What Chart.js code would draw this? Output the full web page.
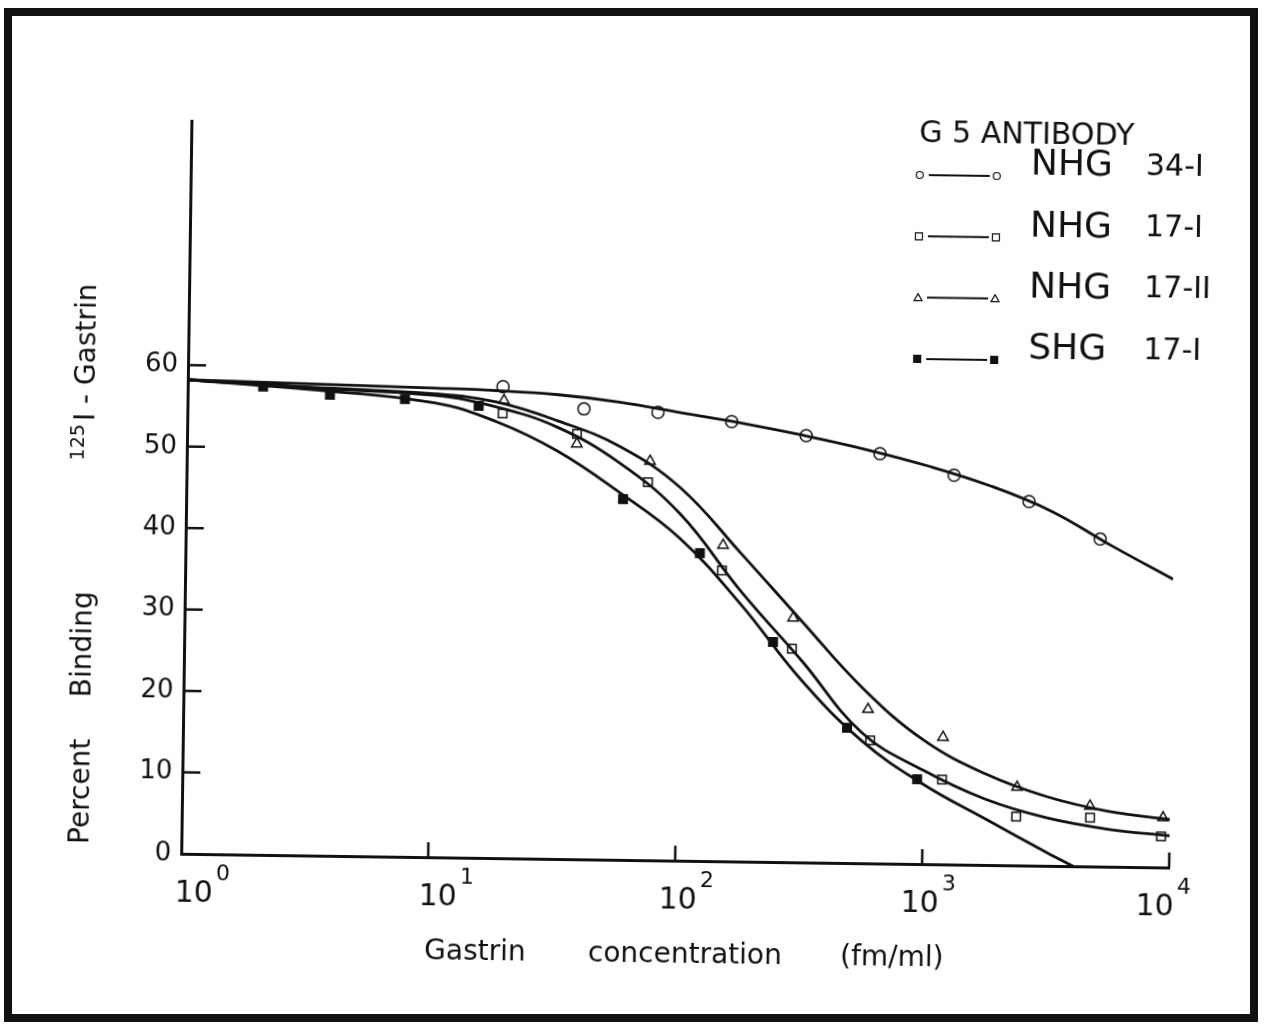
<!DOCTYPE html>
<html lang="en">
<head>
    <meta charset="UTF-8">
    <title>G5 antibody - gastrin binding</title>
    <script src="https://cdn.jsdelivr.net/npm/chart.js"></script>
    <style>
        body {
            margin: 0;
            background-color: #fff;
            overflow: hidden;
        }

        #frame {
            position: absolute;
            left: 4px;
            top: 8px;
            width: 1254px;
            height: 1014px;
            box-sizing: border-box;
            border: 8px solid #111;
            pointer-events: none;
        }

        #chart {
            position: absolute;
            left: 0;
            top: 0;
            transform: rotate(0.8deg);
        }
    </style>
</head>
<body>
    <canvas id="chart" width="1264" height="1027"></canvas>
    <div id="frame"></div>

    <script>
        // axis ticks
        var xTicks = [1, 10, 100, 1000, 10000];
        var xTickExp = ['0', '1', '2', '3', '4'];
        var yTicks = [0, 10, 20, 30, 40, 50, 60];

        // fitted curves
        var curveX = [1, 3.16, 10, 17.8, 31.6, 56.2, 100, 178, 316, 562, 1000, 1778, 3162, 5623, 10000];
        var nhg34Curve = [58.2, 57.9, 57.6, 57.4, 57.0, 56.2, 55.0, 53.8, 52.4, 50.8, 48.9, 46.6, 43.6, 39.4, 35.4];
        var nhg17ICurve = [58.2, 57.4, 56.7, 55.4, 53.0, 48.8, 42.6, 33.2, 24.8, 16.0, 11.5, 8.1, 5.9, 4.6, 3.9];
        var nhg17IICurve = [58.2, 57.5, 56.9, 56.0, 53.8, 50.8, 45.8, 37.8, 29.6, 21.5, 15.2, 11.2, 8.5, 6.8, 5.9];
        var shgCurveX = [1, 3.16, 10, 17.8, 31.6, 56.2, 100, 178, 316, 562, 1000, 1778, 3162, 4083];
        var shgCurve = [58.2, 57.2, 55.8, 53.6, 50.1, 45.2, 39.6, 31.6, 22.4, 15.0, 9.8, 5.7, 1.7, 0];

        // measured points
        var nhg34X = [18.9, 40.3, 80.4, 160, 321, 640, 1280, 2585, 5040];
        var nhg34Y = [57.9, 55.3, 55.0, 54.0, 52.4, 50.3, 47.8, 44.7, 40.2];
        var nhg17IX = [18.9, 37.9, 73.9, 149, 289, 606, 1191, 2387, 4755, 9240];
        var nhg17IY = [54.6, 52.2, 46.4, 35.7, 26.2, 15.1, 10.4, 6.0, 6.0, 3.8];
        var nhg17IIX = [19.1, 37.9, 75.1, 150, 291, 592, 1195, 2399, 4745, 9390];
        var nhg17IIY = [56.2, 51.0, 49.0, 38.8, 30.0, 18.9, 15.6, 9.6, 7.4, 6.1];
        var shgX = [2.02, 3.77, 7.59, 15.1, 58.7, 121, 242, 488, 944];
        var shgY = [57.5, 56.6, 56.2, 55.5, 44.3, 37.8, 27.0, 16.6, 10.4];

        var INK = '#111';
        var FONT = '"DejaVu Sans", Arial, sans-serif';

        function pairs(xs, ys) {
            return xs.map(function (x, i) { return { x: x, y: ys[i] }; });
        }

        function curve(xs, ys) {
            return {
                data: pairs(xs, ys),
                showLine: true,
                borderColor: INK,
                borderWidth: 2.8,
                pointRadius: 0,
                tension: 0.4
            };
        }

        function marks(label, xs, ys, style, fill) {
            return {
                label: label,
                data: pairs(xs, ys),
                showLine: false,
                pointStyle: style,
                pointRadius: 6,
                pointBackgroundColor: fill,
                pointBorderColor: INK,
                pointBorderWidth: 1.5
            };
        }

        var series = [
            marks('NHG 34-I', nhg34X, nhg34Y, 'circle', '#fff'),
            marks('NHG 17-I', nhg17IX, nhg17IY, 'rect', '#fff'),
            marks('NHG 17-II', nhg17IIX, nhg17IIY, 'triangle', '#fff'),
            marks('SHG 17-I', shgX, shgY, 'rect', INK)
        ];

        function line(ctx, x1, y1, x2, y2) {
            ctx.beginPath();
            ctx.moveTo(x1, y1);
            ctx.lineTo(x2, y2);
            ctx.stroke();
        }

        function symbol(ctx, style, fill, x, y) {
            ctx.fillStyle = fill;
            ctx.lineWidth = 1.2;
            ctx.beginPath();
            if (style === 'circle') {
                ctx.arc(x, y, 3.5, 0, Math.PI * 2);
            } else if (style === 'triangle') {
                ctx.moveTo(x, y - 4);
                ctx.lineTo(x + 4, y + 3);
                ctx.lineTo(x - 4, y + 3);
                ctx.closePath();
            } else {
                ctx.rect(x - 3.5, y - 3.5, 7, 7);
            }
            ctx.fill();
            ctx.stroke();
        }

        // ticks inward, exponent labels, titles and the legend box
        var decorations = {
            id: 'decorations',
            afterDraw: function (chart) {
                var ctx = chart.ctx;
                var a = chart.chartArea;
                var xs = chart.scales.x;
                var ys = chart.scales.y;
                // hand-lettered labels drift a little against the ticks
                var nudge = [13, 10, 3, -2, -14];
                ctx.save();
                ctx.strokeStyle = INK;
                ctx.fillStyle = INK;
                ctx.lineWidth = 2.5;

                yTicks.forEach(function (v) {
                    if (v === 0) return;
                    var py = ys.getPixelForValue(v);
                    line(ctx, a.left, py, a.left + 18, py);
                });
                xTicks.forEach(function (v) {
                    if (v === 1) return;
                    var px = xs.getPixelForValue(v);
                    line(ctx, px, a.bottom, px, a.bottom - 15);
                });

                // x tick labels 10^n
                ctx.textBaseline = 'alphabetic';
                xTicks.forEach(function (v, i) {
                    var px = xs.getPixelForValue(v) + nudge[i];
                    ctx.font = '30px ' + FONT;
                    ctx.textAlign = 'center';
                    ctx.fillText('10', px, a.bottom + 48);
                    var w = ctx.measureText('10').width;
                    ctx.font = '22px ' + FONT;
                    ctx.textAlign = 'left';
                    ctx.fillText(xTickExp[i], px + w / 2 + 3, a.bottom + 26);
                });

                // x title
                ctx.font = '28px ' + FONT;
                ctx.textAlign = 'center';
                ctx.fillText('Gastrin', 481, 962);
                ctx.fillText('concentration', 691, 962);
                ctx.fillText('(fm/ml)', 898, 962);

                // y title, rotated
                ctx.save();
                ctx.translate(86, 0);
                ctx.rotate(-Math.PI / 2);
                ctx.textBaseline = 'middle';
                ctx.font = '28px ' + FONT;
                ctx.fillText('Percent', -799, 0);
                ctx.fillText('Binding', -652, 0);
                ctx.fillText('I - Gastrin', -360, 0);
                ctx.font = '19px ' + FONT;
                ctx.fillText('125', -450, -8);
                ctx.restore();

                // legend
                ctx.textBaseline = 'middle';
                ctx.textAlign = 'left';
                ctx.font = '30px ' + FONT;
                ctx.fillText('G 5 ANTIBODY', 914, 130);
                series.forEach(function (ds, i) {
                    var ty = 160 + i * 61.3;
                    var sy = ty + 11;
                    var parts = ds.label.split(' ');
                    ctx.fillStyle = INK;
                    ctx.font = '36px ' + FONT;
                    ctx.fillText(parts[0], 1026, ty);
                    ctx.font = '30px ' + FONT;
                    ctx.fillText(parts[1], 1141, ty);
                    ctx.lineWidth = 2;
                    line(ctx, 924, sy, 985, sy);
                    symbol(ctx, ds.pointStyle, ds.pointBackgroundColor, 915, sy);
                    symbol(ctx, ds.pointStyle, ds.pointBackgroundColor, 992, sy);
                });

                ctx.restore();
            }
        };

        var ctx = document.getElementById('chart').getContext('2d');
        var bindingChart = new Chart(ctx, {
            type: 'scatter',
            data: {
                datasets: [
                    curve(curveX, nhg34Curve),
                    curve(curveX, nhg17ICurve),
                    curve(curveX, nhg17IICurve),
                    curve(shgCurveX, shgCurve)
                ].concat(series)
            },
            options: {
                responsive: false,
                animation: false,
                layout: {
                    padding: { left: 0, top: 127, right: 90, bottom: 67 }
                },
                plugins: {
                    legend: { display: false },
                    tooltip: { enabled: false }
                },
                scales: {
                    x: {
                        type: 'logarithmic',
                        min: 1,
                        max: 10000,
                        afterBuildTicks: function (axis) {
                            axis.ticks = xTicks.map(function (v) { return { value: v }; });
                        },
                        afterFit: function (axis) { axis.height = 100; },
                        grid: { display: false, drawTicks: false },
                        border: { display: true, color: INK, width: 3 },
                        ticks: { display: false }
                    },
                    y: {
                        min: 0,
                        max: 90,
                        afterBuildTicks: function (axis) {
                            axis.ticks = yTicks.map(function (v) { return { value: v }; });
                        },
                        afterFit: function (axis) { axis.width = 186; },
                        grid: { display: false, drawTicks: false },
                        border: { display: true, color: INK, width: 3 },
                        ticks: {
                            padding: 10,
                            color: INK,
                            font: { family: FONT, size: 26 }
                        }
                    }
                }
            },
            plugins: [decorations]
        });
    </script>
</body>
</html>
